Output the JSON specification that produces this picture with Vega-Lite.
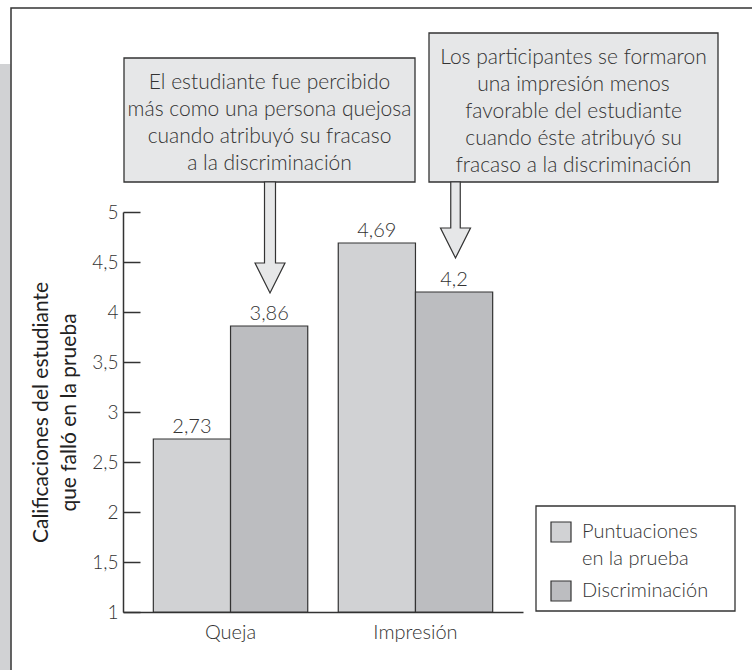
{
  "$schema": "https://vega.github.io/schema/vega-lite/v6.json",
  "width": 400,
  "height": 400,
  "autosize": {"type": "none"},
  "padding": {"left": 123, "top": 212, "right": 229, "bottom": 58},
  "background": "white",
  "config": {
    "view": {"stroke": null},
    "font": "Lato",
    "locale": {"number": {"decimal": ",", "thousands": ".", "grouping": [3], "currency": ["", " €"]}},
    "style": {"guide-label": {"lineHeight": 27}}
  },
  "datasets": {
    "barras": [
      {"categoria": "Queja", "serie": "Puntuaciones en la prueba", "valor": 2.73},
      {"categoria": "Queja", "serie": "Discriminación", "valor": 3.86},
      {"categoria": "Impresión", "serie": "Puntuaciones en la prueba", "valor": 4.69},
      {"categoria": "Impresión", "serie": "Discriminación", "valor": 4.2}
    ],
    "franja": [{"x1": -1.35, "x2": -1.125, "y1": 0.2, "y2": 6.48}],
    "marco": [{"x1": -1.12, "x2": 6.6, "y1": 0.2, "y2": 7.04}],
    "recuadros": [
      {"x1": 0.01, "x2": 2.92, "y1": 5.3, "y2": 6.54},
      {"x1": 3.06, "x2": 5.95, "y1": 5.3, "y2": 6.79}
    ],
    "leyenda": [{"x1": 4.13, "x2": 6.12, "y1": 1.01, "y2": 2.06}],
    "textos": [
      {"x": 1.465, "y": 6.29, "texto": ["El estudiante fue percibido", "más como una persona quejosa", "cuando atribuyó su fracaso", "a la discriminación"]},
      {"x": 4.505, "y": 6.545, "texto": ["Los participantes se formaron", "una impresión menos", "favorable del estudiante", "cuando éste atribuyó su", "fracaso a la discriminación"]}
    ],
    "flecha1": [{"x": 1.47, "y": 4.745}],
    "flecha2": [{"x": 3.325, "y": 4.92}]
  },
  "layer": [
    {
      "layer": [
        {
          "data": {"name": "franja"},
          "mark": {"type": "rect", "fill": "#d1d2d4"},
          "encoding": {
            "x": {"field": "x1", "type": "quantitative", "scale": {"domain": [0, 4], "nice": false, "zero": false}, "axis": null},
            "x2": {"field": "x2"},
            "y": {"field": "y1", "type": "quantitative", "scale": {"domain": [1, 5], "nice": false, "zero": false}},
            "y2": {"field": "y2"}
          }
        },
        {
          "data": {"name": "marco"},
          "mark": {"type": "rect", "fillOpacity": 0, "stroke": "#333333", "strokeWidth": 1.5},
          "encoding": {
            "x": {"field": "x1", "type": "quantitative"},
            "x2": {"field": "x2"},
            "y": {"field": "y1", "type": "quantitative"},
            "y2": {"field": "y2"}
          }
        },
        {
          "data": {"name": "leyenda"},
          "mark": {"type": "rect", "fill": "white", "stroke": "#333333", "strokeWidth": 1.3},
          "encoding": {
            "x": {"field": "x1", "type": "quantitative"},
            "x2": {"field": "x2"},
            "y": {"field": "y1", "type": "quantitative"},
            "y2": {"field": "y2"}
          }
        }
      ]
    },
    {
      "layer": [
        {
          "data": {"name": "barras"},
          "mark": {"type": "bar", "stroke": "#333333", "strokeWidth": 1.2},
          "encoding": {
            "x": {
              "field": "categoria", "type": "nominal", "sort": ["Queja", "Impresión"],
              "scale": {"paddingInner": 0.165, "paddingOuter": 0.164},
              "axis": {"orient": "bottom", "title": null, "ticks": false, "labelAngle": 0, "domainColor": "#333333", "domainWidth": 1.5, "labelFontSize": 20, "labelFontWeight": 300, "labelColor": "#333333", "labelPadding": 10}
            },
            "xOffset": {"field": "serie", "type": "nominal", "sort": ["Puntuaciones en la prueba", "Discriminación"], "scale": {"paddingInner": 0, "paddingOuter": 0}},
            "y": {
              "field": "valor", "type": "quantitative",
              "scale": {"domain": [1, 5], "nice": false, "zero": false},
              "axis": {
                "orient": "left",
                "title": ["Calificaciones del estudiante", "que falló en la prueba"],
                "values": [1, 1.5, 2, 2.5, 3, 3.5, 4, 4.5, 5],
                "format": ".1~f",
                "grid": false,
                "domainColor": "#333333", "domainWidth": 1.5,
                "tickColor": "#333333", "tickWidth": 1.5, "tickSize": -17,
                "labelPadding": 22, "labelFontSize": 19, "labelFontWeight": 300, "labelColor": "#333333",
                "titleFontSize": 21, "titleFontWeight": 400, "titleColor": "#222222", "titleLineHeight": 28, "titlePadding": 12
              }
            },
            "y2": {"datum": 1},
            "fill": {
              "field": "serie", "type": "nominal",
              "scale": {"domain": ["Puntuaciones en la prueba", "Discriminación"], "range": ["#d1d2d4", "#bcbdc0"]},
              "legend": {
                "title": null, "orient": "none", "legendX": 427, "legendY": 309,
                "padding": 0,
                "symbolType": "square", "symbolSize": 400, "symbolStrokeColor": "#333333", "symbolStrokeWidth": 1.2,
                "labelFontSize": 20, "labelFontWeight": 300, "labelColor": "#333333", "labelLimit": 300, "labelOffset": 10,
                "rowPadding": 9,
                "labelExpr": "datum.label == 'Puntuaciones en la prueba' ? ['Puntuaciones', 'en la prueba'] : datum.label"
              }
            }
          }
        },
        {
          "data": {"name": "barras"},
          "mark": {"type": "text", "baseline": "alphabetic", "dy": -6, "fontSize": 20, "fontWeight": 300, "color": "#333333"},
          "encoding": {
            "x": {"field": "categoria", "type": "nominal", "sort": ["Queja", "Impresión"]},
            "xOffset": {"field": "serie", "type": "nominal", "sort": ["Puntuaciones en la prueba", "Discriminación"]},
            "y": {"field": "valor", "type": "quantitative", "scale": {"domain": [1, 5], "nice": false, "zero": false}},
            "text": {"field": "valor", "type": "quantitative", "format": ".3~r"}
          }
        }
      ]
    },
    {
      "layer": [
        {
          "data": {"name": "recuadros"},
          "mark": {"type": "rect", "fill": "#e6e7e8", "stroke": "#333333", "strokeWidth": 1.3},
          "encoding": {
            "x": {"field": "x1", "type": "quantitative", "scale": {"domain": [0, 4], "nice": false, "zero": false}, "axis": null},
            "x2": {"field": "x2"},
            "y": {"field": "y1", "type": "quantitative", "scale": {"domain": [1, 5], "nice": false, "zero": false}},
            "y2": {"field": "y2"}
          }
        },
        {
          "data": {"name": "textos"},
          "mark": {"type": "text", "align": "center", "baseline": "middle", "fontSize": 21, "fontWeight": 300, "lineHeight": 27, "color": "#333333"},
          "encoding": {
            "x": {"field": "x", "type": "quantitative"},
            "y": {"field": "y", "type": "quantitative"},
            "text": {"field": "texto", "type": "nominal"}
          }
        },
        {
          "data": {"name": "flecha1"},
          "mark": {"type": "point", "filled": true, "opacity": 1, "fill": "#e6e7e8", "stroke": "#333333", "strokeWidth": 1.2, "size": 12321,
            "shape": "M-0.099,-1 L0.099,-1 L0.099,0.459 L0.27,0.459 L0,1 L-0.27,0.459 L-0.099,0.459 Z"},
          "encoding": {
            "x": {"field": "x", "type": "quantitative"},
            "y": {"field": "y", "type": "quantitative"}
          }
        },
        {
          "data": {"name": "flecha2"},
          "mark": {"type": "point", "filled": true, "opacity": 1, "fill": "#e6e7e8", "stroke": "#333333", "strokeWidth": 1.2, "size": 5776,
            "shape": "M-0.125,-1 L0.125,-1 L0.125,0.21 L0.395,0.21 L0,1 L-0.395,0.21 L-0.125,0.21 Z"},
          "encoding": {
            "x": {"field": "x", "type": "quantitative"},
            "y": {"field": "y", "type": "quantitative"}
          }
        }
      ]
    }
  ],
  "resolve": {"scale": {"x": "independent"}}
}
